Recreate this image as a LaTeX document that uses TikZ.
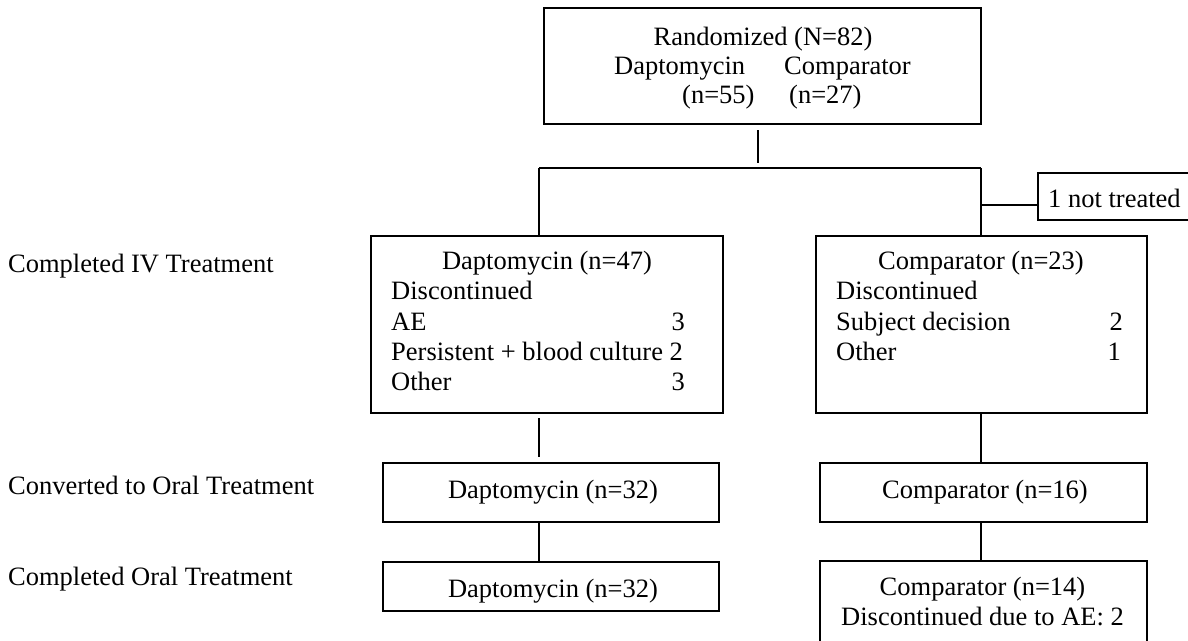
\documentclass[tikz,border=0pt]{standalone}
\usepackage{fontspec}
\setmainfont{Liberation Serif}
\begin{document}
\begin{tikzpicture}[x=1pt,y=-1pt,
  every node/.style={font=\fontsize{26.5}{30}\selectfont, inner sep=0pt},
  box/.style={draw, line width=1.3pt, rectangle},
  ln/.style={line width=1.3pt},
  tl/.style={anchor=base west},
  tc/.style={anchor=base},
  tr/.style={anchor=base east}
]
\useasboundingbox (0,0) rectangle (1188,640);
\clip (0,0) rectangle (1188,640);

% boxes
\node[box, minimum width=437pt, minimum height=116pt] (rand) at (762.5,66) {};
\node[box, minimum width=352pt, minimum height=177pt] (dIV) at (547,324.5) {};
\node[box, minimum width=331pt, minimum height=177pt] (cIV) at (981.5,324.5) {};
\node[box, minimum width=160pt, minimum height=47pt] (nott) at (1118,196.5) {};
\node[box, minimum width=336pt, minimum height=59pt] (dConv) at (551,492.5) {};
\node[box, minimum width=327pt, minimum height=59pt] (cConv) at (983.5,492.5) {};
\node[box, minimum width=336pt, minimum height=49pt] (dFin) at (551,586.5) {};
\node[box, minimum width=327pt, minimum height=90pt] (cFin) at (983.5,606) {};

% texts in top box
\node[tc] (r1) at (763,45) {Randomized (N=82)};
\node[tl] (r2a) at (614,74) {Daptomycin};
\node[tl] (r2b) at (784,74) {Comparator};
\node[tl] (r3a) at (682,103) {(n=55)};
\node[tl] (r3b) at (789,103) {(n=27)};

% daptomycin IV box
\node[tc] (d1) at (547,269) {Daptomycin (n=47)};
\node[tl] (d2) at (391,299) {Discontinued};
\node[tl] (d3) at (391,330) {AE};
\node[tr] (d3n) at (685,330) {3};
\node[tl] (d4) at (391,360) {Persistent + blood culture 2};
\node[tl] (d5) at (391,390) {Other};
\node[tr] (d5n) at (685,390) {3};

% comparator IV box
\node[tc] (c1) at (981,269) {Comparator (n=23)};
\node[tl] (c2) at (836,299) {Discontinued};
\node[tl] (c3) at (836,330) {Subject decision};
\node[tr] (c3n) at (1123,330) {2};
\node[tl] (c4) at (836,360) {Other};
\node[tr] (c4n) at (1121,360) {1};

% not treated
\node[tl] (ntt) at (1048,207) {1 not treated};

% lower boxes
\node[tc] (dc) at (553,498) {Daptomycin (n=32)};
\node[tc] (cc) at (985,498) {Comparator (n=16)};
\node[tc] (df) at (553,597) {Daptomycin (n=32)};
\node[tc] (cf1) at (982.5,595) {Comparator (n=14)};
\node[tc] (cf2) at (982.5,625) {Discontinued due to AE: 2};

% left labels
\node[tl] (L1) at (8,272) {Completed IV Treatment};
\node[tl] (L2) at (8,494) {Converted to Oral Treatment};
\node[tl] (L3) at (8,585) {Completed Oral Treatment};

% connectors
\coordinate (v1a) at (758,130);
\coordinate (v1b) at (758,163);
\draw[ln] (v1a) -- (v1b);
\coordinate (hl) at (539,168);
\coordinate (hr) at (981,168);
\draw[ln] (hl) -- (hr);
\draw[ln] (hl) -- (hl |- dIV.north);
\draw[ln] (hr) -- (hr |- cIV.north);
\coordinate (nt) at (981,205);
\draw[ln] (nt) -- (nt -| nott.west);
\coordinate (dv1a) at (539,418);
\coordinate (dv1b) at (539,457);
\draw[ln] (dv1a) -- (dv1b);
\draw[ln] (hr |- cIV.south) -- (hr |- cConv.north);
\draw[ln] (hl |- dConv.south) -- (hl |- dFin.north);
\draw[ln] (hr |- cConv.south) -- (hr |- cFin.north);
\end{tikzpicture}
\end{document}
